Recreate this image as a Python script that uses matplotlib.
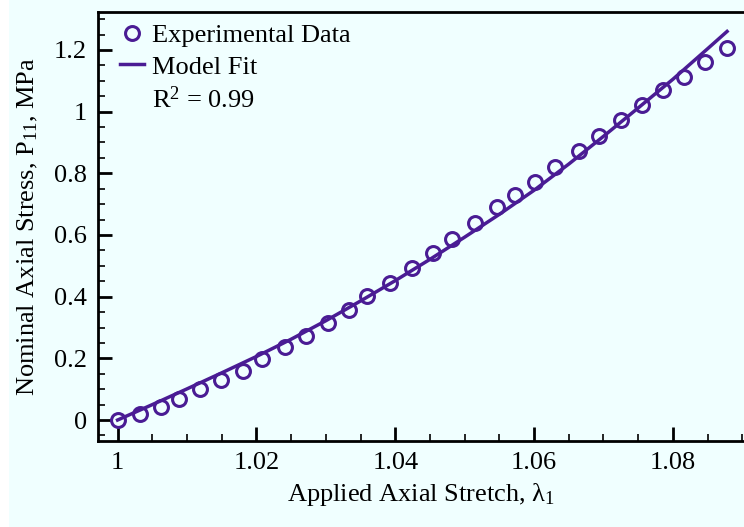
import matplotlib
matplotlib.use("Agg")
import matplotlib.pyplot as plt
from matplotlib.lines import Line2D
from matplotlib.patches import Rectangle
from matplotlib.ticker import MultipleLocator, FixedLocator

plt.rcParams['font.family'] = ['Liberation Serif', 'DejaVu Serif']
plt.rcParams['mathtext.fontset'] = 'custom'
plt.rcParams['mathtext.rm'] = 'Liberation Serif'
plt.rcParams['mathtext.it'] = 'Liberation Serif:italic'

# Measured nominal stress vs. stretch
stretch_exp = [1.0000, 1.0032, 1.0063, 1.0089, 1.0119, 1.0149, 1.0181, 1.0208,
               1.0241, 1.0272, 1.0303, 1.0333, 1.0359, 1.0393, 1.0424, 1.0454,
               1.0482, 1.0515, 1.0546, 1.0573, 1.0601, 1.0630, 1.0664, 1.0694,
               1.0725, 1.0756, 1.0786, 1.0816, 1.0846, 1.0878]
stress_exp = [0.000, 0.018, 0.043, 0.068, 0.100, 0.130, 0.159, 0.197,
              0.236, 0.272, 0.314, 0.358, 0.402, 0.443, 0.492, 0.541,
              0.586, 0.638, 0.690, 0.731, 0.772, 0.822, 0.873, 0.921,
              0.973, 1.022, 1.070, 1.113, 1.162, 1.206]

# Fitted model curve
stretch_fit = [1.000, 1.005, 1.010, 1.015, 1.020, 1.025, 1.030, 1.035, 1.040,
               1.045, 1.050, 1.055, 1.060, 1.065, 1.070, 1.075, 1.080, 1.085, 1.0878]
stress_fit = [0.000, 0.050, 0.101, 0.153, 0.206, 0.262, 0.322, 0.386, 0.452,
              0.521, 0.593, 0.667, 0.745, 0.830, 0.920, 1.012, 1.105, 1.204, 1.260]

x_ticks = [1, 1.02, 1.04, 1.06, 1.08]
x_tick_labels = ['1', '1.02', '1.04', '1.06', '1.08']
y_ticks = [0, 0.2, 0.4, 0.6, 0.8, 1.0, 1.2]
y_tick_labels = ['0', '0.2', '0.4', '0.6', '0.8', '1', '1.2']
r2_text = 'R$^2$ = 0.99'

purple = '#4a1c94'
bg = '#f0ffff'
fs = 19

fig = plt.figure(figsize=(7.44, 5.27), dpi=100, facecolor=bg)
fig.patches.append(Rectangle((0, 0), 9 / 744, 1, transform=fig.transFigure,
                             facecolor='white', edgecolor='none', zorder=-1))
ax = fig.add_axes([98 / 744, 1 - 440.7 / 527, 1 - 98 / 744, (440.7 - 11.7) / 527])
ax.set_facecolor(bg)

ax.plot(stretch_fit, stress_fit, color=purple, lw=2.5, zorder=2)
ax.plot(stretch_exp, stress_exp, linestyle='none', marker='o', ms=10,
        mfc='none', mec=purple, mew=2.2, zorder=3)

ax.set_xlim(0.99718, 1.09024)
ax.set_ylim(-0.067, 1.324)

ax.xaxis.set_major_locator(FixedLocator(x_ticks))
ax.set_xticklabels(x_tick_labels)
ax.yaxis.set_major_locator(FixedLocator(y_ticks))
ax.set_yticklabels(y_tick_labels)
ax.xaxis.set_minor_locator(MultipleLocator(0.005))
ax.yaxis.set_minor_locator(MultipleLocator(0.05))

ax.tick_params(which='both', direction='in', top=False, right=False, labelsize=fs, colors='black')
ax.tick_params(which='major', length=10, width=2)
ax.tick_params(which='minor', length=5, width=1.2)
ax.tick_params(axis='x', which='major', pad=8)
ax.tick_params(axis='y', which='major', pad=8)

for side in ('left', 'bottom', 'top'):
    ax.spines[side].set_linewidth(2)
    ax.spines[side].set_color('black')
ax.spines['right'].set_visible(False)

ax.set_xlabel('Applied Axial Stretch, λ$_1$', fontsize=fs, labelpad=5)
ax.set_ylabel('Nominal Axial Stress, P$_{11}$, MPa', fontsize=fs, labelpad=10)

handles = [
    Line2D([], [], linestyle='none', marker='o', ms=10, mfc='none', mec=purple, mew=2.2),
    Line2D([], [], color=purple, lw=2.5),
    Line2D([], [], linestyle='none'),
]
labels = ['Experimental Data', 'Model Fit', r2_text]
ax.legend(handles, labels, loc='upper left', bbox_to_anchor=(0.034, 0.972),
          frameon=False, fontsize=fs, handlelength=0.9, handletextpad=0.3,
          labelspacing=0.3, borderpad=0, borderaxespad=0)

fig.savefig('out.png', dpi=100, facecolor=bg)
